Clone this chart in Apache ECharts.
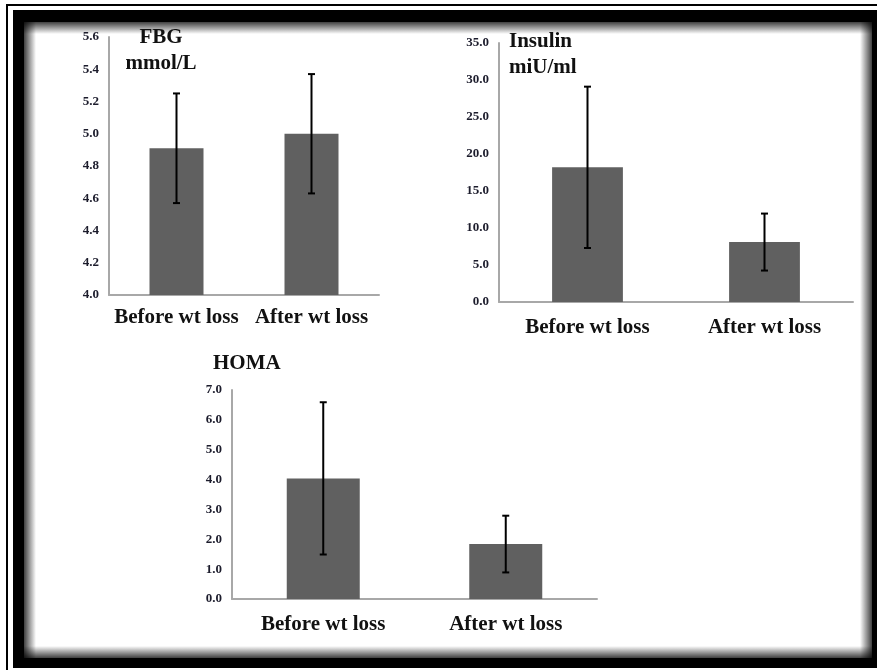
<!DOCTYPE html>
<html>
<head>
<meta charset="utf-8">
<script src="https://cdn.jsdelivr.net/npm/echarts@6/dist/echarts.min.js"></script>
<style>
  html, body { margin: 0; padding: 0; background: #fff; }
  #chart { width: 877px; height: 670px; }
</style>
</head>
<body>
<div id="chart"></div>
<script>
const categories = ["Before wt loss", "After wt loss"];

// means and SD
const fbgMean = [4.91, 5.0];
const fbgSd = [0.34, 0.37];
const insulinMean = [18.2, 8.1];
const insulinSd = [10.9, 3.85];
const homaMean = [4.04, 1.84];
const homaSd = [2.55, 0.95];

const serif = "'Liberation Serif', 'Times New Roman', serif";
const barColor = "#606060";
const axisColor = "#a8a8a8";

function yAxis(idx, min, max, interval) {
  return {
    type: "value",
    gridIndex: idx,
    min: min,
    max: max,
    interval: interval,
    splitLine: { show: false },
    axisTick: { show: false },
    axisLine: { show: true, lineStyle: { color: axisColor, width: 2 } },
    axisLabel: {
      margin: 10,
      fontFamily: serif,
      fontWeight: "bold",
      fontSize: 13,
      color: "#1c1c2c",
      formatter: (v) => v.toFixed(1),
    },
  };
}

function xAxis(idx, margin) {
  return {
    type: "category",
    gridIndex: idx,
    data: categories,
    axisTick: { show: false },
    axisLine: { lineStyle: { color: axisColor, width: 2 } },
    axisLabel: {
      margin: margin,
      fontFamily: serif,
      fontWeight: "bold",
      fontSize: 21,
      color: "#111",
      interval: 0,
    },
  };
}

function bars(idx, values) {
  return {
    type: "bar",
    xAxisIndex: idx,
    yAxisIndex: idx,
    barWidth: "40%",
    data: values,
    itemStyle: { color: barColor },
    z: 2,
  };
}

function errorBars(idx, mean, sd) {
  return {
    type: "custom",
    xAxisIndex: idx,
    yAxisIndex: idx,
    z: 5,
    data: mean.map((m, i) => [i, m - sd[i], m + sd[i]]),
    renderItem(params, api) {
      const lo = api.coord([api.value(0), api.value(1)]);
      const hi = api.coord([api.value(0), api.value(2)]);
      const cap = 3.5;
      const style = { stroke: "#000", lineWidth: 2 };
      return {
        type: "group",
        children: [
          { type: "line", shape: { x1: lo[0], y1: lo[1], x2: hi[0], y2: hi[1] }, style },
          { type: "line", shape: { x1: hi[0] - cap, y1: hi[1], x2: hi[0] + cap, y2: hi[1] }, style },
          { type: "line", shape: { x1: lo[0] - cap, y1: lo[1], x2: lo[0] + cap, y2: lo[1] }, style },
        ],
      };
    },
  };
}

function titleText(x, y, text, align) {
  return {
    type: "text",
    x: x,
    y: y,
    z: 20,
    style: {
      text: text,
      fontFamily: serif,
      fontWeight: "bold",
      fontSize: 21,
      lineHeight: 26,
      fill: "#111",
      textAlign: align,
      textVerticalAlign: "top",
    },
  };
}

// soft inner shadow strip along one edge of the panel
function edge(x, y, w, h, x2, y2) {
  return {
    type: "rect",
    z: -7,
    shape: { x: x, y: y, width: w, height: h },
    style: {
      fill: new echarts.graphic.LinearGradient(0, 0, x2, y2, [
        { offset: 0, color: "rgba(0,0,0,0.75)" },
        { offset: 1, color: "rgba(0,0,0,0)" },
      ]),
    },
  };
}

const chart = echarts.init(document.getElementById("chart"));

chart.setOption({
  animation: false,
  backgroundColor: "#fff",
  graphic: [
    // thin outer line
    {
      type: "polyline",
      z: -10,
      shape: { points: [[7, 670], [7, 5], [877, 5]] },
      style: { stroke: "#000", lineWidth: 2, fill: null },
    },
    // thick frame
    {
      type: "rect",
      z: -9,
      shape: { x: 13, y: 10, width: 880, height: 658 },
      style: { fill: "#000" },
    },
    // inner panel
    {
      type: "rect",
      z: -8,
      shape: { x: 24, y: 22, width: 848, height: 636 },
      style: { fill: "#fff" },
    },
    edge(24, 22, 12, 636, 1, 0),
    edge(24, 22, 848, 12, 0, 1),
    {
      type: "rect",
      z: -7,
      shape: { x: 860, y: 22, width: 12, height: 636 },
      style: {
        fill: new echarts.graphic.LinearGradient(0, 0, 1, 0, [
          { offset: 0, color: "rgba(0,0,0,0)" },
          { offset: 1, color: "rgba(0,0,0,0.75)" },
        ]),
      },
    },
    {
      type: "rect",
      z: -7,
      shape: { x: 24, y: 646, width: 848, height: 12 },
      style: {
        fill: new echarts.graphic.LinearGradient(0, 0, 0, 1, [
          { offset: 0, color: "rgba(0,0,0,0)" },
          { offset: 1, color: "rgba(0,0,0,0.75)" },
        ]),
      },
    },
    titleText(161, 25, "FBG\nmmol/L", "center"),
    titleText(509, 29, "Insulin\nmiU/ml", "left"),
    titleText(213, 351, "HOMA", "left"),
  ],
  grid: [
    { left: 109, top: 37, width: 270, height: 258 },
    { left: 499, top: 43, width: 354, height: 259 },
    { left: 232, top: 390, width: 365, height: 209 },
  ],
  xAxis: [xAxis(0, 12), xAxis(1, 15), xAxis(2, 15)],
  yAxis: [yAxis(0, 4.0, 5.6, 0.2), yAxis(1, 0, 35, 5), yAxis(2, 0, 7, 1)],
  series: [
    bars(0, fbgMean),
    errorBars(0, fbgMean, fbgSd),
    bars(1, insulinMean),
    errorBars(1, insulinMean, insulinSd),
    bars(2, homaMean),
    errorBars(2, homaMean, homaSd),
  ],
});
</script>
</body>
</html>
